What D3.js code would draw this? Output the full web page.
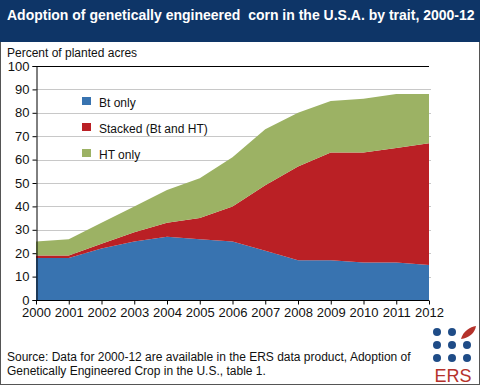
<!DOCTYPE html>
<html>
<head>
<meta charset="UTF-8">
<title>GE corn adoption</title>
<script src="https://cdn.jsdelivr.net/npm/d3@7"></script>
<style>
body { margin: 0; }
svg { font-family: Arial, "Liberation Sans", sans-serif; }
</style>
</head>
<body>
<svg class="chart" width="480" height="385"></svg>
<script>
var years = [2000, 2001, 2002, 2003, 2004, 2005, 2006, 2007, 2008, 2009, 2010, 2011, 2012];
var btOnly = [18, 18, 22, 25, 27, 26, 25, 21, 17, 17, 16, 16, 15];
var stacked = [1, 1, 2, 4, 6, 9, 15, 28, 40, 46, 47, 49, 52];
var htOnly = [6, 7, 9, 11, 14, 17, 21, 24, 23, 22, 23, 23, 21];
var seriesNames = ["Bt only", "Stacked (Bt and HT)", "HT only"];
var yTicks = [0, 10, 20, 30, 40, 50, 60, 70, 80, 90, 100];

var colors = ["#3873b0", "#ba2025", "#9cb264"];

var svg = d3.select(".chart");

// background + frame
svg.append("rect").attr("x", 0.5).attr("y", 0.5).attr("width", 479).attr("height", 384)
  .attr("fill", "#fff").attr("stroke", "#555");

// title bar
svg.append("rect").attr("x", 0).attr("y", 0).attr("width", 480).attr("height", 42).attr("fill", "#0e3567");
svg.append("text").attr("x", 7).attr("y", 20)
  .attr("fill", "#fff").attr("font-size", "14px").attr("font-weight", "bold")
  .style("white-space", "pre")
  .text("Adoption of genetically engineered  corn in the U.S.A. by trait, 2000-12");

svg.append("text").attr("x", 7).attr("y", 57).attr("font-size", "12px").attr("fill", "#111")
  .text("Percent of planted acres");

var m = { left: 36, right: 429, top: 66, bottom: 300 };

var x = d3.scaleLinear().domain([2000, 2012]).range([m.left, m.right]);
var y = d3.scaleLinear().domain([0, 100]).range([m.bottom, m.top]);

var rows = years.map(function(yr, i) {
  return { year: yr, bt: btOnly[i], st: stacked[i], ht: htOnly[i] };
});
var layers = d3.stack().keys(["bt", "st", "ht"])(rows);

// gridlines
svg.append("g").selectAll("line").data(yTicks.filter(function(d){ return d > 0 && d < 100; }))
  .enter().append("line")
  .attr("x1", m.left).attr("x2", m.right + 2)
  .attr("y1", function(d){ return Math.round(y(d)) + 0.5; })
  .attr("y2", function(d){ return Math.round(y(d)) + 0.5; })
  .attr("stroke", "#c8c8c8");

var area = d3.area()
  .x(function(d){ return x(d.data.year); })
  .y0(function(d){ return y(d[0]); })
  .y1(function(d){ return y(d[1]); });

svg.append("g").selectAll("path").data(layers).enter().append("path")
  .attr("d", area)
  .attr("fill", function(d, i){ return colors[i]; });

// top line
svg.append("line").attr("x1", m.left).attr("x2", m.right).attr("y1", m.top + 0.5).attr("y2", m.top + 0.5)
  .attr("stroke", "#000");

// axes
var yAxis = d3.axisLeft(y).tickValues(yTicks).tickSize(4).tickPadding(3);
var gy = svg.append("g").attr("transform", "translate(" + (m.left + 0.5) + ",0)").call(yAxis);
gy.selectAll("text").attr("font-size", "13px").attr("fill", "#111").attr("font-family", "Arial, sans-serif");

var xAxis = d3.axisBottom(x).tickValues(years).tickFormat(d3.format("d")).tickSize(4).tickPadding(3);
var gx = svg.append("g").attr("transform", "translate(0," + (m.bottom + 0.5) + ")").call(xAxis);
gx.selectAll("text").attr("font-size", "13px").attr("fill", "#111").attr("font-family", "Arial, sans-serif");
gx.select(".domain").attr("d", "M" + m.left + ",0H" + m.right);

// legend
var legend = svg.append("g").selectAll("g").data(seriesNames).enter().append("g")
  .attr("transform", function(d, i){ return "translate(82," + (97 + i * 26) + ")"; });
legend.append("rect").attr("width", 9).attr("height", 8).attr("fill", function(d, i){ return colors[i]; });
legend.append("text").attr("x", 17).attr("y", 9.5).attr("font-size", "12px").attr("fill", "#111")
  .text(function(d){ return d; });

// source
svg.append("text").attr("x", 7).attr("y", 361).attr("font-size", "12px").attr("fill", "#111")
  .text("Source: Data for 2000-12 are available in the ERS data product, Adoption of");
svg.append("text").attr("x", 7).attr("y", 375).attr("font-size", "12px").attr("fill", "#111")
  .text("Genetically Engineered Crop in the U.S., table 1.");

// ERS logo
var logo = svg.append("g");
var dots = [[0,0],[1,0],[0,1],[1,1],[2,1],[0,2],[1,2],[2,2]];
logo.selectAll("circle").data(dots).enter().append("circle")
  .attr("cx", function(d){ return 437 + d[0] * 15; })
  .attr("cy", function(d){ return 332 + d[1] * 13; })
  .attr("r", 4).attr("fill", "#1f4c87");
logo.append("path").attr("d", "M461,339 C463,331 470,327 476,326 C475,333 469,338 461,339 Z").attr("fill", "#b5322b");
logo.append("text").attr("x", 453).attr("y", 382).attr("text-anchor", "middle")
  .attr("font-size", "18px").attr("fill", "#b5322b").text("ERS");
</script>
</body>
</html>
